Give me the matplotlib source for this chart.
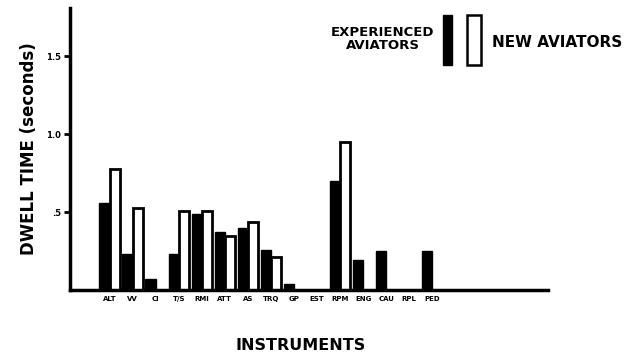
import numpy as np
import matplotlib
matplotlib.use("Agg")
import matplotlib.pyplot as plt
from matplotlib.patches import Rectangle

instruments = ["ALT", "VV", "CI", "T/S", "RMI", "ATT", "AS", "TRQ", "GP",
               "EST", "RPM", "ENG", "CAU", "RPL", "PED"]
# dwell time in seconds, None = no bar
experienced = [0.56, 0.23, 0.07, 0.23, 0.49, 0.37, 0.40, 0.26, 0.04,
               None, 0.70, 0.19, 0.25, None, 0.25]
new_aviators = [0.78, 0.53, None, 0.51, 0.51, 0.35, 0.44, 0.21, None,
                None, 0.95, None, None, None, None]
yticks = [0.5, 1.0, 1.5]
yticklabels = [".5", "1.0", "1.5"]

fig = plt.figure(figsize=(6.28, 3.64), dpi=100)
ax = fig.add_axes([0.111, 0.203, 0.762, 0.775])

x = np.arange(len(instruments))
w = 0.45

for xi, v in zip(x, experienced):
    if v is not None:
        ax.bar(xi - w / 2, v, w, color="black", edgecolor="black", linewidth=1)
for xi, v in zip(x, new_aviators):
    if v is not None:
        ax.bar(xi + w / 2, v, w, color="white", edgecolor="black", linewidth=2)

ax.set_xlim(-1.74, 19.04)
ax.set_ylim(0, 1.81)

ax.spines["top"].set_visible(False)
ax.spines["right"].set_visible(False)
ax.spines["left"].set_linewidth(2.5)
ax.spines["bottom"].set_linewidth(2.5)

ax.set_yticks(yticks)
ax.set_yticklabels(yticklabels, fontsize=6, fontweight="bold")
ax.tick_params(axis="y", length=4, width=2, pad=2)
ax.set_xticks(x)
ax.set_xticklabels(instruments, fontsize=5, fontweight="bold")
ax.tick_params(axis="x", length=0, pad=4)

ax.set_ylabel("DWELL TIME (seconds)", fontsize=12, fontweight="bold", labelpad=6)
fig.text(0.478, 0.052, "INSTRUMENTS", fontsize=11.5, fontweight="bold",
         ha="center", va="center")

# legend drawn by hand like the original
fig.text(0.692, 0.893, "EXPERIENCED\nAVIATORS", fontsize=9.5, fontweight="bold",
         ha="right", va="center", multialignment="center", linespacing=1.0)
fig.patches.append(Rectangle((0.705, 0.821), 0.0143, 0.137, transform=fig.transFigure,
                             facecolor="black", edgecolor="black"))
fig.patches.append(Rectangle((0.744, 0.821), 0.022, 0.137, transform=fig.transFigure,
                             facecolor="white", edgecolor="black", linewidth=1.8))
fig.text(0.783, 0.884, "NEW AVIATORS", fontsize=11, fontweight="bold",
         ha="left", va="center")

fig.savefig("out.png", dpi=100)
